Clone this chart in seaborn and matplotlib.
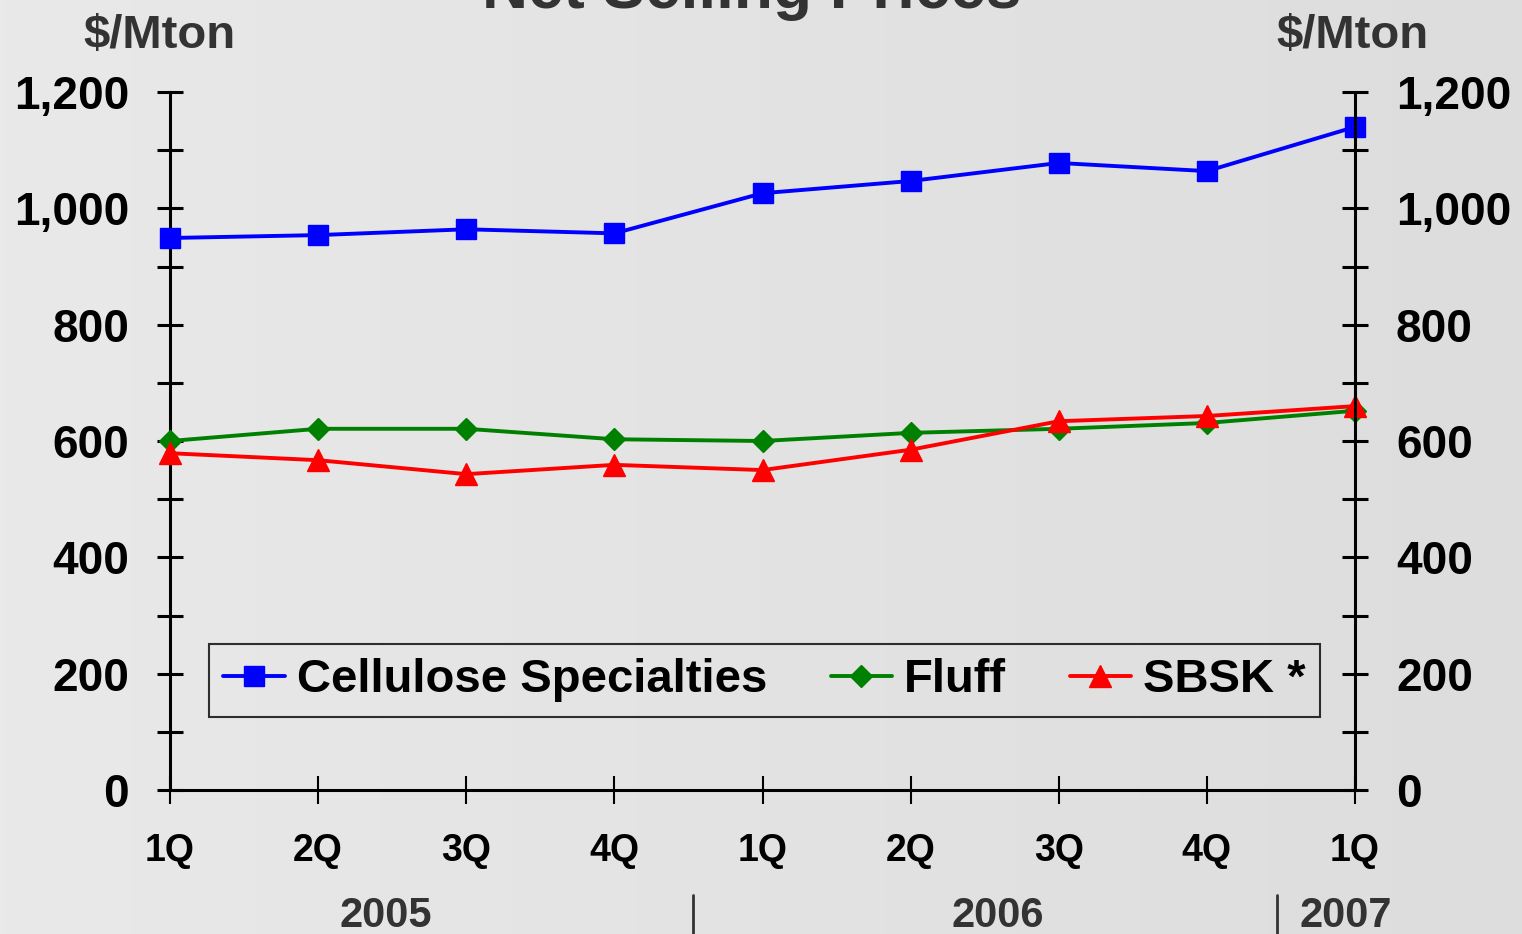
import numpy as np
import pandas as pd
import matplotlib
matplotlib.use('Agg')
import matplotlib.pyplot as plt
import seaborn as sns
from matplotlib.colors import LinearSegmentedColormap
from matplotlib.lines import Line2D
from matplotlib.ticker import MultipleLocator, FuncFormatter

# data ($/Mton)
quarters = ['1Q', '2Q', '3Q', '4Q', '1Q', '2Q', '3Q', '4Q', '1Q']
years = ['2005', '2006', '2007']
cellulose = [949, 954, 964, 957, 1026, 1047, 1078, 1064, 1140]
fluff = [600, 621, 621, 603, 600, 614, 621, 631, 652]
sbsk = [579, 567, 543, 559, 550, 585, 634, 643, 660]

df = pd.DataFrame({'q': range(len(quarters)),
                   'Cellulose Specialties': cellulose,
                   'Fluff': fluff,
                   'SBSK *': sbsk})

sns.set_style('white')
plt.rcParams['font.family'] = ['Liberation Sans', 'DejaVu Sans']
plt.rcParams['font.weight'] = 'bold'

W, H = 1522, 934
fig = plt.figure(figsize=(W / 100, H / 100), dpi=100)

# light grey gradient background
bg = fig.add_axes([0, 0, 1, 1], zorder=-10)
cmap = LinearSegmentedColormap.from_list('bg', ['#e9e9e9', '#dddddd'])
bg.imshow(np.linspace(0, 1, 256)[None, :], cmap=cmap, aspect='auto', extent=(0, 1, 0, 1))
bg.axis('off')

ax = fig.add_axes([170 / W, 144 / H, 1185 / W, 698 / H])
ax.set_facecolor('none')

styles = {'Cellulose Specialties': ('#0000ff', 's', 14),
          'Fluff': ('#008000', 'D', 11),
          'SBSK *': ('#ff0000', '^', 16)}
for name, (c, m, ms) in styles.items():
    sns.lineplot(data=df, x='q', y=name, ax=ax, color=c, marker=m, markersize=ms,
                 markeredgecolor=c, markeredgewidth=1, linewidth=2.8, label=name,
                 clip_on=False, zorder=3)

ax.set_xlim(0, 8)
ax.set_ylim(0, 1200)
ax.set_xlabel('')
ax.set_ylabel('')
ax.set_xticks(range(len(quarters)))
ax.set_xticklabels(quarters)
ax.yaxis.set_major_locator(MultipleLocator(200))
ax.yaxis.set_minor_locator(MultipleLocator(100))
ax.yaxis.set_major_formatter(FuncFormatter(lambda v, p: f'{v:,.0f}'))
ax.tick_params(axis='y', which='both', left=True, direction='inout', length=19,
               width=2.2, pad=20, labelsize=33, colors='black')
ax.tick_params(axis='x', bottom=True, direction='inout', length=20, width=1.5,
               pad=21, labelsize=27, colors='black')
for t in ax.get_xticklabels() + ax.get_yticklabels():
    t.set_fontweight('bold')
ax.spines['top'].set_visible(False)
ax.spines['right'].set_visible(False)
for s in ['left', 'bottom']:
    ax.spines[s].set_linewidth(2.2)
    ax.spines[s].set_color('black')

ax2 = ax.twinx()
ax2.set_facecolor('none')
ax2.set_ylim(0, 1200)
ax2.yaxis.set_major_locator(MultipleLocator(200))
ax2.yaxis.set_minor_locator(MultipleLocator(100))
ax2.yaxis.set_major_formatter(FuncFormatter(lambda v, p: f'{v:,.0f}'))
ax2.tick_params(axis='y', which='both', right=True, direction='inout', length=19,
                width=2.2, pad=20, labelsize=33, colors='black')
for t in ax2.get_yticklabels():
    t.set_fontweight('bold')
for s in ['top', 'left', 'bottom']:
    ax2.spines[s].set_visible(False)
ax2.spines['right'].set_linewidth(2.2)
ax2.spines['right'].set_color('black')

leg = ax.legend(loc='center', bbox_to_anchor=(0.5017, 0.157), ncol=3, frameon=True,
                fancybox=False, edgecolor='black', facecolor='none', labelcolor='black',
                prop={'weight': 'bold', 'size': 34}, handlelength=1.3,
                handletextpad=0.25, columnspacing=1.35, borderpad=0.3)
leg.get_frame().set_linewidth(1.5)

grey = '#333333'
fig.text(752 / W, 1 - 8 / H, 'Net Selling Prices', ha='center', va='baseline',
         fontsize=46, fontweight='bold', color=grey)
fig.text(159 / W, 1 - 48 / H, '$/Mton', ha='center', va='baseline',
         fontsize=34, fontweight='bold', color=grey)
fig.text(1352 / W, 1 - 48 / H, '$/Mton', ha='center', va='baseline',
         fontsize=34, fontweight='bold', color=grey)

for yr, xc in zip(years, [386, 998, 1346]):
    fig.text(xc / W, 1 - 927 / H, yr, ha='center', va='baseline',
             fontsize=30, fontweight='bold', color=grey)
for xs in [693, 1277]:
    fig.add_artist(Line2D([xs / W, xs / W], [0, 39 / H], transform=fig.transFigure,
                          color=grey, linewidth=2))

fig.savefig('out.png', dpi=100)
